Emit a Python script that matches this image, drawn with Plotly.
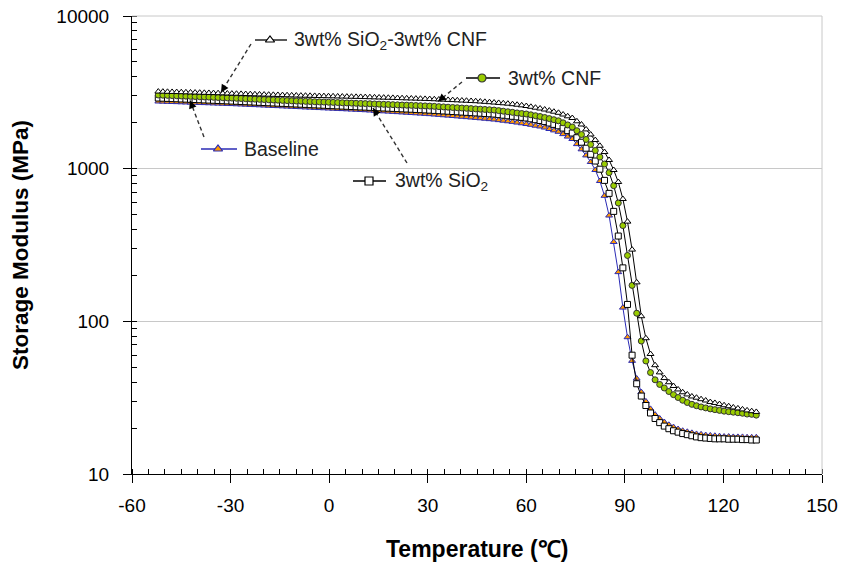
import plotly.graph_objects as go

# ---------------- data ----------------
TEMPERATURE_C = [
    -52.0, -50.6, -49.2, -47.8, -46.4, -45.0, -43.6, -42.2, -40.8, -39.4,
    -38.0, -36.6, -35.2, -33.8, -32.4, -31.0, -29.6, -28.2, -26.8, -25.4,
    -24.0, -22.6, -21.2, -19.8, -18.4, -17.0, -15.6, -14.2, -12.8, -11.4,
    -10.0, -8.6, -7.2, -5.8, -4.4, -3.0, -1.6, -0.2, 1.2, 2.6,
    4.0, 5.4, 6.8, 8.2, 9.6, 11.0, 12.4, 13.8, 15.2, 16.6,
    18.0, 19.4, 20.8, 22.2, 23.6, 25.0, 26.4, 27.8, 29.2, 30.6,
    32.0, 33.4, 34.8, 36.2, 37.6, 39.0, 40.4, 41.8, 43.2, 44.6,
    46.0, 47.4, 48.8, 50.2, 51.6, 53.0, 54.4, 55.8, 57.2, 58.6,
    60.0, 61.4, 62.8, 64.2, 65.6, 67.0, 68.4, 69.8, 71.2, 72.6,
    74.0, 75.4, 76.8, 78.2, 79.6, 81.0, 82.4, 83.8, 85.2, 86.6,
    88.0, 89.4, 90.8, 92.2, 93.6, 95.0, 96.4, 97.8, 99.2, 100.6,
    102.0, 103.4, 104.8, 106.2, 107.6, 109.0, 110.4, 111.8, 113.2, 114.6,
    116.0, 117.4, 118.8, 120.2, 121.6, 123.0, 124.4, 125.8, 127.2, 128.6,
    130.0,
]

BASELINE_MPA = [
    2754, 2748, 2741, 2735, 2728, 2722, 2715, 2709, 2702, 2696,
    2689, 2683, 2676, 2670, 2663, 2657, 2650, 2642, 2634, 2626,
    2617, 2609, 2601, 2593, 2584, 2576, 2568, 2560, 2552, 2543,
    2535, 2527, 2519, 2511, 2503, 2495, 2487, 2480, 2472, 2464,
    2456, 2448, 2440, 2432, 2424, 2415, 2405, 2395, 2385, 2375,
    2366, 2356, 2346, 2336, 2326, 2316, 2306, 2296, 2286, 2276,
    2263, 2251, 2238, 2226, 2213, 2201, 2188, 2176, 2163, 2151,
    2138, 2125, 2111, 2098, 2079, 2062, 2044, 2025, 2004, 1983,
    1961, 1938, 1912, 1889, 1858, 1819, 1781, 1744, 1684, 1622,
    1564, 1448, 1339, 1221, 1106, 980, 830, 664, 493, 331,
    210, 123, 78.7, 55.1, 42.2, 34.4, 29.9, 26.7, 24.5, 23.1,
    21.9, 21.0, 20.3, 19.7, 19.2, 18.9, 18.6, 18.3, 18.2, 18.0,
    17.9, 17.8, 17.7, 17.6, 17.6, 17.5, 17.5, 17.5, 17.4, 17.4,
    17.4,
]

SIO2_MPA = [
    2903, 2895, 2887, 2878, 2870, 2862, 2854, 2846, 2838, 2829,
    2821, 2813, 2805, 2797, 2789, 2780, 2772, 2763, 2755, 2746,
    2738, 2729, 2720, 2712, 2703, 2695, 2686, 2678, 2669, 2660,
    2652, 2644, 2636, 2627, 2619, 2611, 2603, 2595, 2586, 2578,
    2570, 2562, 2554, 2545, 2537, 2530, 2522, 2514, 2506, 2498,
    2490, 2482, 2474, 2466, 2459, 2451, 2443, 2435, 2427, 2418,
    2408, 2398, 2388, 2378, 2368, 2358, 2348, 2339, 2329, 2319,
    2309, 2299, 2289, 2279, 2260, 2240, 2221, 2203, 2185, 2167,
    2148, 2121, 2093, 2068, 2034, 1991, 1950, 1909, 1844, 1775,
    1712, 1595, 1490, 1361, 1242, 1122, 992, 838, 689, 525,
    362, 224, 129, 60.0, 39.0, 32.4, 28.1, 25.1, 23.1, 21.7,
    20.6, 19.8, 19.2, 18.8, 18.4, 18.1, 17.8, 17.5, 17.3, 17.2,
    17.1, 17.0, 17.0, 17.0, 16.9, 16.9, 16.9, 16.8, 16.8, 16.7,
    16.7,
]

CNF_MPA = [
    3038, 3029, 3021, 3012, 3004, 2995, 2986, 2978, 2969, 2961,
    2952, 2943, 2935, 2926, 2918, 2909, 2900, 2891, 2882, 2873,
    2864, 2855, 2846, 2837, 2828, 2819, 2810, 2801, 2792, 2783,
    2775, 2768, 2761, 2754, 2746, 2739, 2732, 2725, 2718, 2711,
    2703, 2696, 2689, 2682, 2675, 2668, 2661, 2654, 2647, 2640,
    2633, 2626, 2619, 2612, 2606, 2599, 2592, 2585, 2578, 2570,
    2560, 2549, 2539, 2528, 2517, 2507, 2496, 2486, 2475, 2464,
    2454, 2443, 2432, 2421, 2400, 2380, 2359, 2339, 2318, 2298,
    2281, 2253, 2223, 2196, 2163, 2128, 2093, 2058, 1997, 1935,
    1875, 1773, 1674, 1554, 1440, 1315, 1192, 1073, 942, 774,
    596, 424, 270, 172, 113, 74.3, 55.0, 46.2, 41.4, 38.6,
    36.6, 34.7, 33.1, 31.7, 30.4, 29.4, 28.6, 28.0, 27.5, 27.1,
    26.7, 26.4, 26.1, 25.8, 25.6, 25.4, 25.2, 25.0, 24.7, 24.6,
    24.3,
]

SIO2_CNF_MPA = [
    3200, 3194, 3188, 3181, 3175, 3169, 3163, 3157, 3151, 3145,
    3139, 3133, 3127, 3121, 3115, 3108, 3102, 3096, 3090, 3083,
    3077, 3071, 3065, 3058, 3052, 3046, 3040, 3034, 3027, 3021,
    3015, 3010, 3006, 3001, 2996, 2992, 2987, 2982, 2978, 2973,
    2968, 2964, 2959, 2954, 2950, 2944, 2938, 2932, 2926, 2920,
    2914, 2908, 2902, 2895, 2889, 2883, 2877, 2871, 2864, 2858,
    2850, 2841, 2832, 2823, 2813, 2804, 2795, 2786, 2776, 2767,
    2754, 2740, 2726, 2711, 2695, 2681, 2665, 2645, 2623, 2599,
    2573, 2542, 2508, 2478, 2441, 2401, 2361, 2322, 2263, 2203,
    2147, 2043, 1947, 1808, 1674, 1540, 1412, 1285, 1140, 980,
    818, 633, 450, 295, 180, 108, 77.5, 61.1, 51.6, 46.3,
    42.5, 39.9, 37.7, 35.8, 34.3, 33.2, 32.2, 31.6, 30.9, 30.3,
    29.6, 29.2, 28.7, 28.2, 27.8, 27.3, 26.9, 26.5, 26.1, 25.8,
    25.5,
]

SERIES_NAMES = ["Baseline", "3wt% SiO<sub>2</sub>", "3wt% CNF",
                "3wt% SiO<sub>2</sub>-3wt% CNF"]
X_TICKS = [-60, -30, 0, 30, 60, 90, 120, 150]
X_TICK_LABELS = ["-60", "-30", "0", "30", "60", "90", "120", "150"]
X_MINOR_TICKS = [-60, -55, -50, -45, -40, -35, -30, -25, -20, -15, -10, -5, 0,
                 5, 10, 15, 20, 25, 30, 35, 40, 45, 50, 55, 60, 65, 70, 75, 80,
                 85, 90, 95, 100, 105, 110, 115, 120, 125, 130, 135, 140, 145,
                 150]
Y_TICKS = [10, 100, 1000, 10000]
Y_TICK_LABELS = ["10", "100", "1000", "10000"]
Y_MINOR_TICKS = [10, 20, 30, 40, 50, 60, 70, 80, 90,
                 100, 200, 300, 400, 500, 600, 700, 800, 900,
                 1000, 2000, 3000, 4000, 5000, 6000, 7000, 8000, 9000, 10000]
X_TITLE = "Temperature (\u2103)"
Y_TITLE = "Storage Modulus (MPa)"

# ---------------- styling ----------------
FONT = "Liberation Sans, Arial, sans-serif"
BLUE = "#2b2bb5"
ORANGE = "#ff9a00"
GREEN = "#99cc00"
GRID = "#c8c8c8"

W, H = 841, 571
ML, MR, MT, MB = 132, 19, 16, 97

STYLES = [
    dict(color=BLUE, symbol="triangle-up", fill=ORANGE, edge=BLUE, size=6),
    dict(color="black", symbol="square", fill="white", edge="black", size=6),
    dict(color="black", symbol="circle", fill=GREEN, edge="#333333", size=6),
    dict(color="black", symbol="triangle-up", fill="white", edge="black", size=6),
]
SERIES_VALUES = [BASELINE_MPA, SIO2_MPA, CNF_MPA, SIO2_CNF_MPA]

fig = go.Figure()
for name, vals, st in zip(SERIES_NAMES, SERIES_VALUES, STYLES):
    fig.add_trace(go.Scatter(
        x=TEMPERATURE_C, y=vals, name=name, mode="lines+markers",
        line=dict(color=st["color"], width=1),
        marker=dict(symbol=st["symbol"], size=st["size"], color=st["fill"],
                    line=dict(color=st["edge"], width=1)),
        showlegend=False, cliponaxis=False,
    ))

# ---------------- label glyphs (pixel coordinates of the page) ----------------
# each: (line x0, line x1, y, marker x, text x, style index, text)
LABELS = [
    (255, 287, 40, 270, 292, 3, SERIES_NAMES[3]),
    (466, 500, 78, 482, 506, 2, SERIES_NAMES[2]),
    (201, 237, 149, 218, 242, 0, SERIES_NAMES[0]),
    (353, 386, 181, 369, 393, 1, SERIES_NAMES[1]),
]
# dashed leaders: (tail x, tail y, tip x, tip y)
LEADERS = [
    (251, 44, 221, 92.5),
    (462, 82, 438, 101.5),
    (204, 137, 190, 100.5),
    (407, 163, 373, 108),
]

for (x0, x1, y, mx, tx, si, txt) in LABELS:
    st = STYLES[si]
    fig.add_trace(go.Scatter(
        x=[x0, x1], y=[y, y], xaxis="x2", yaxis="y2", mode="lines",
        line=dict(color=st["color"], width=1.3), showlegend=False,
        hoverinfo="skip", cliponaxis=False))
    fig.add_trace(go.Scatter(
        x=[mx], y=[y], xaxis="x2", yaxis="y2", mode="markers",
        marker=dict(symbol=st["symbol"], size=8, color=st["fill"],
                    line=dict(color=st["edge"], width=1.2)),
        showlegend=False, hoverinfo="skip", cliponaxis=False))
    fig.add_annotation(x=tx, y=y, xref="x2", yref="y2", text=txt,
                       showarrow=False, xanchor="left", yanchor="middle",
                       font=dict(family=FONT, size=19.5, color="#222222"))

for (tx0, ty0, hx, hy) in LEADERS:
    fig.add_trace(go.Scatter(
        x=[tx0, hx], y=[ty0, hy], xaxis="x2", yaxis="y2", mode="lines",
        line=dict(color="#333333", width=1.4, dash="4px,3px"),
        showlegend=False, hoverinfo="skip", cliponaxis=False))
    dx, dy = tx0 - hx, ty0 - hy
    n = (dx * dx + dy * dy) ** 0.5
    fig.add_annotation(x=hx, y=hy, xref="x2", yref="y2", text="",
                       showarrow=True, ax=dx / n * 9, ay=dy / n * 9,
                       arrowhead=2, arrowsize=1.3, arrowwidth=1.2,
                       arrowcolor="black", standoff=0)

# axis titles
fig.add_annotation(x=0.5, y=(474 - 549) / 458, xref="paper", yref="paper",
                   text="<b>" + X_TITLE + "</b>", showarrow=False,
                   xanchor="center", yanchor="middle",
                   font=dict(family=FONT, size=23, color="black"))
fig.add_annotation(x=(20 - 132) / 690, y=0.5, xref="paper", yref="paper",
                   text="<b>" + Y_TITLE + "</b>", showarrow=False, textangle=-90,
                   xanchor="center", yanchor="middle",
                   font=dict(family=FONT, size=22.5, color="black"))

# plot-area border (top gridline and right edge)
fig.add_shape(type="line", xref="paper", yref="paper", x0=0, x1=1, y0=1, y1=1,
              line=dict(color=GRID, width=1))
fig.add_shape(type="line", xref="paper", yref="paper", x0=1, x1=1, y0=0, y1=1,
              line=dict(color=GRID, width=1))

tickfont = dict(family=FONT, size=19, color="black")
fig.update_layout(
    width=W, height=H, autosize=False,
    margin=dict(l=ML, r=MR, t=MT, b=MB, pad=0),
    paper_bgcolor="white", plot_bgcolor="white",
    font=dict(family=FONT),
    xaxis=dict(range=[-60, 150], tickmode="array", tickvals=X_TICKS,
               ticktext=X_TICK_LABELS, ticks="outside", ticklen=8,
               tickcolor="black", tickwidth=1, showline=True, linecolor="black",
               linewidth=1, showgrid=False, zeroline=False, tickfont=tickfont,
               ticklabelstandoff=6, automargin=False,
               minor=dict(tickmode="array", tickvals=X_MINOR_TICKS,
                          ticks="inside", ticklen=5, tickcolor="black",
                          tickwidth=1, showgrid=False)),
    yaxis=dict(type="log", range=[1, 4], tickmode="array", tickvals=Y_TICKS,
               ticktext=Y_TICK_LABELS, ticks="outside", ticklen=8,
               tickcolor="black", showline=True, linecolor="black", linewidth=1,
               showgrid=True, gridcolor=GRID, gridwidth=1, zeroline=False,
               tickfont=tickfont, ticklabelstandoff=10, automargin=False,
               minor=dict(tickmode="array", tickvals=Y_MINOR_TICKS,
                          ticks="inside", ticklen=5, tickcolor="black",
                          tickwidth=1, showgrid=False)),
    xaxis2=dict(overlaying="x", range=[ML, W - MR], visible=False, anchor="y2",
                automargin=False),
    yaxis2=dict(overlaying="y", range=[H - MB, MT], visible=False, anchor="x2",
                automargin=False),
    showlegend=False,
)

fig.write_html("out.html")
